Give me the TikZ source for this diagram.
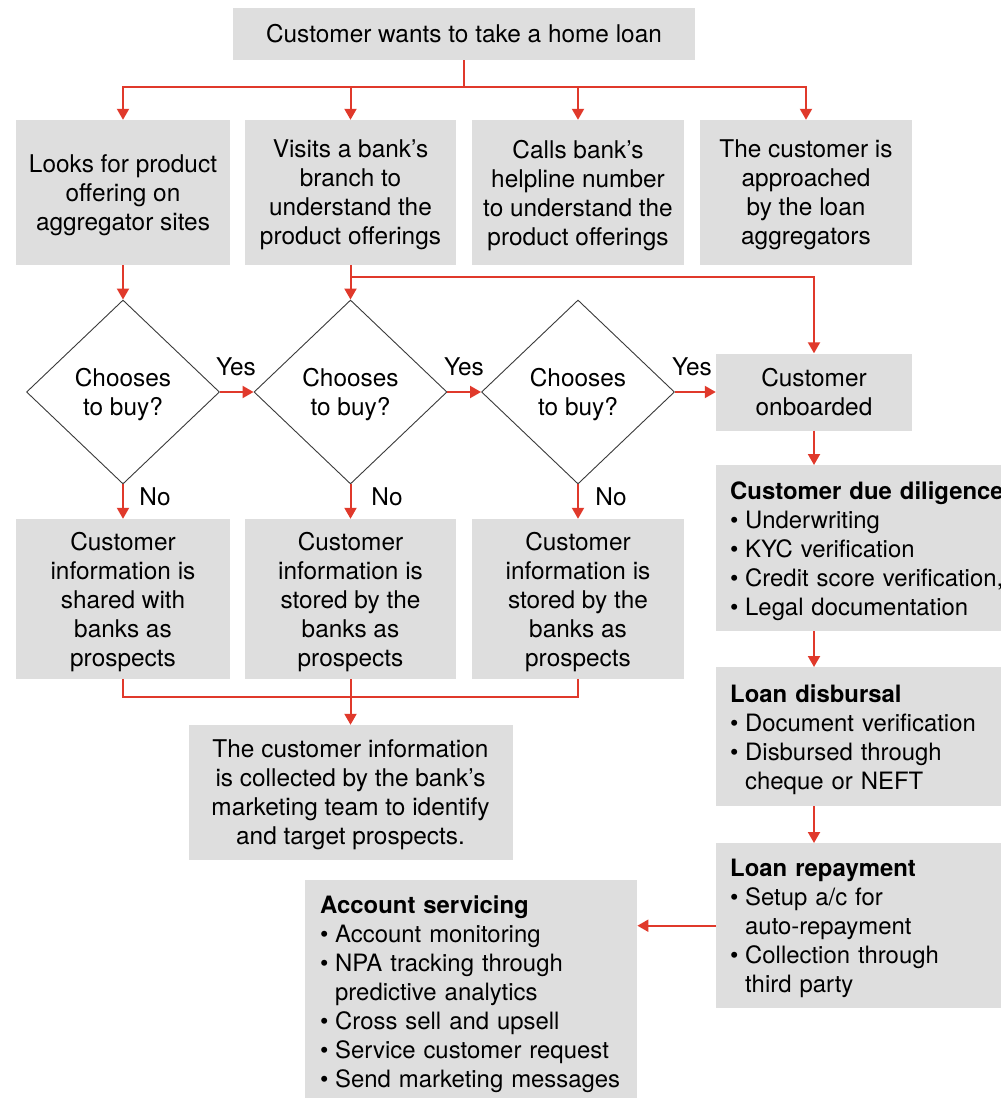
\documentclass[tikz,border=0pt]{standalone}
\usepackage{fontspec}
\setmainfont{TeX Gyre Heros}
\usetikzlibrary{arrows.meta,shapes.geometric}
\definecolor{boxgray}{HTML}{DEDEDE}
\definecolor{arrred}{HTML}{E0392B}
\definecolor{dgray}{HTML}{3A3A3A}
\newcommand\bl[1]{\makebox[15pt][l]{•}#1}
\newcommand\cl[1]{\hspace*{15pt}#1}
\newcommand\nd[1]{\raisebox{0pt}[\height][0pt]{#1}}
\begin{document}
\begin{tikzpicture}[x=1pt,y=-1pt,
  font=\fontsize{24.4}{29}\selectfont,
  box/.style={fill=boxgray, inner sep=0pt, align=center},
  lbox/.style={fill=boxgray, anchor=north west, inner xsep=14pt, inner ysep=0pt,
     text width=292pt, minimum width=320pt, align=left, font=\fontsize{23.9}{29}\selectfont},
  dec/.style={diamond, draw=dgray, line width=0.9pt, fill=white, aspect=1,
     minimum width=193pt, minimum height=184pt, inner sep=0pt, align=center},
  ln/.style={draw=arrred, line width=2pt},
  arr/.style={draw=arrred, line width=2pt, -{Triangle[length=11pt,width=12pt]}},
  lab/.style={inner sep=0pt}
]
\useasboundingbox (0,0) rectangle (1001,1098);
\clip (0,0) rectangle (1001,1098);

% top
\node[box, minimum width=462pt, minimum height=52pt] (top) at (464,34) {Customer wants to take a home loan};

% row 2
\node[box, minimum width=214pt, minimum height=145pt] (b1) at (123,192.5) {Looks for product\\offering on\\\nd{aggregator sites}};
\node[box, minimum width=211pt, minimum height=145pt] (b2) at (350.5,192.5) {Visits a bank’s\\branch to\\understand the\\\nd{product offerings}};
\node[box, minimum width=212pt, minimum height=145pt] (b3) at (578,192.5) {Calls bank’s\\helpline number\\to understand the\\\nd{product offerings}};
\node[box, minimum width=212pt, minimum height=145pt] (b4) at (806,192.5) {The customer is\\approached\\by the loan\\\nd{aggregators}};

% diamonds
\node[dec] (d1) at (123,392) {Chooses\\\nd{to buy?}};
\node[dec] (d2) at (350.5,392) {Chooses\\\nd{to buy?}};
\node[dec] (d3) at (578,392) {Chooses\\\nd{to buy?}};

\node[box, minimum width=196pt, minimum height=77pt] (onb) at (814,392) {Customer\\onboarded};

% row 4
\node[box, minimum width=214pt, minimum height=160pt] (n1) at (123,599) {Customer\\information is\\shared with\\banks as\\\nd{prospects}};
\node[box, minimum width=211pt, minimum height=160pt] (n2) at (350.5,599) {Customer\\information is\\stored by the\\banks as\\\nd{prospects}};
\node[box, minimum width=212pt, minimum height=160pt] (n3) at (578,599) {Customer\\information is\\stored by the\\banks as\\\nd{prospects}};

\node[box, minimum width=324pt, minimum height=135pt] (mk) at (350.5,792.5) {The customer information\\is collected by the bank’s\\marketing team to identify\\\nd{and target prospects.}};

% right chain
\node[lbox, minimum height=166pt] (dd) at (716,465) {\textbf{Customer due diligence}\\\bl{Underwriting}\\\bl{KYC verification}\\\bl{Credit score verification,}\\\nd{\bl{Legal documentation}}};
\node[lbox, minimum height=139pt] (disb) at (716,667) {\textbf{Loan disbursal}\\\bl{Document verification}\\\bl{Disbursed through}\\\nd{\cl{cheque or NEFT}}};
\node[lbox, minimum height=165pt] (rep) at (716,843) {\textbf{Loan repayment}\\\bl{Setup a/c for}\\\cl{auto-repayment}\\\bl{Collection through}\\\nd{\cl{third party}}};
\node[lbox, minimum width=332pt, text width=302pt, inner xsep=15pt, minimum height=222pt] (acc) at (305,880) {\textbf{Account servicing}\\\bl{Account monitoring}\\\bl{NPA tracking through}\\\cl{predictive analytics}\\\bl{Cross sell and upsell}\\\bl{Service customer request}\\\nd{\bl{Send marketing messages}}};

% connectors
\coordinate (s) at (464,87);
\draw[ln] (top.south) -- (s);
\foreach \n in {b1,b2,b3,b4} \draw[arr] (s) -| (\n.north);

\draw[arr] (b1.south) -- (d1.north);
\draw[arr] (b2.south) -- (d2.north);
\draw[arr] (b2.south) -- ++(0,12) -| (onb.north);

\draw[arr] (d1.east) -- (d2.west);
\draw[arr] (d2.east) -- (d3.west);
\draw[arr] (d3.east) -- (onb.west);
\node[lab] (y1) at (236,367) {Yes};
\node[lab] (y2) at (464,367) {Yes};
\node[lab] (y3) at (692,367) {Yes};

\draw[arr] (d1.south) -- (n1.north);
\draw[arr] (d2.south) -- (n2.north);
\draw[arr] (d3.south) -- (n3.north);
\node[lab] (no1) at (155,497) {No};
\node[lab] (no2) at (387,497) {No};
\node[lab] (no3) at (611,497) {No};

\coordinate (m) at (350.5,697);
\draw[ln] (n1.south) |- (m) -| (n3.south);
\draw[arr] (n2.south) -- (mk.north);

\draw[arr] (onb.south) -- (onb.south |- dd.north);
\draw[arr] (onb.south |- dd.south) -- (onb.south |- disb.north);
\draw[arr] (onb.south |- disb.south) -- (onb.south |- rep.north);
\draw[arr] (rep.west) -- (rep.west -| acc.east);
\end{tikzpicture}
\end{document}
